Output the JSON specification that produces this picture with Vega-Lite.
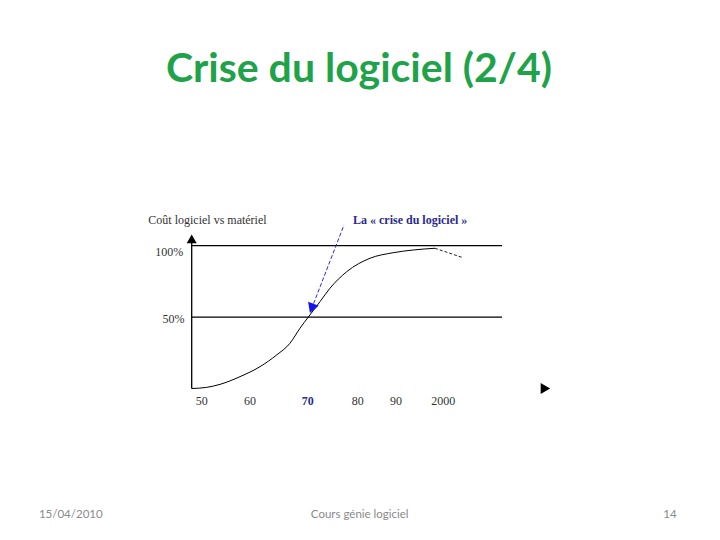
{
  "$schema": "https://vega.github.io/schema/vega-lite/v6.json",
  "width": 720,
  "height": 540,
  "autosize": {"type": "fit", "contains": "padding"},
  "padding": 0,
  "background": "white",
  "config": {"view": {"stroke": null}},
  "datasets": {
    "curve": [
      {"year": 1947.93, "pct": 0},
      {"year": 1951.03, "pct": 0.8},
      {"year": 1953.79, "pct": 2.9},
      {"year": 1957.93, "pct": 8.3},
      {"year": 1962.07, "pct": 15.3},
      {"year": 1965.52, "pct": 23.5},
      {"year": 1968.27, "pct": 31.7},
      {"year": 1970.34, "pct": 42.2},
      {"year": 1972.06, "pct": 50},
      {"year": 1974.48, "pct": 60.8},
      {"year": 1976.55, "pct": 70.2},
      {"year": 1980.01, "pct": 81.8},
      {"year": 1984.83, "pct": 91.2},
      {"year": 1989.65, "pct": 95.1},
      {"year": 1993.79, "pct": 97.0},
      {"year": 1998.28, "pct": 98.2}
    ],
    "tail": [
      {"year": 1998.28, "pct": 98.2},
      {"year": 2001.03, "pct": 95.1},
      {"year": 2003.81, "pct": 91.9}
    ],
    "refs": [
      {"year": 1947.93, "year2": 2012.15, "pct": 100},
      {"year": 1947.93, "year2": 2012.15, "pct": 50}
    ],
    "yaxis": [{"year": 1947.93, "pct": 0, "pct2": 104.5}],
    "arrow": [
      {"year": 1979.45, "pct": 114.5},
      {"year": 1972.7, "pct": 55.5}
    ],
    "headUp": [{"year": 1947.93, "pct": 104.8}],
    "headRight": [{"year": 2021.13, "pct": 0}],
    "headArrow": [{"year": 1972.76, "pct": 56.1}],
    "title": [{"year": 1982.55, "pct": 214.8, "text": "Crise du logiciel (2/4)"}],
    "footer": [
      {"year": 1922.91, "pct": -88.6, "text": "15/04/2010"},
      {"year": 1982.7, "pct": -88.6, "text": "Cours génie logiciel"},
      {"year": 2046.9, "pct": -88.6, "text": "14"}
    ],
    "ylabels": [
      {"year": 1946.2, "pct": 95.8, "text": "100%"},
      {"year": 1946.45, "pct": 48.7, "text": "50%"}
    ],
    "xlabels": [
      {"year": 1950, "pct": -8.5, "text": "50"},
      {"year": 1960, "pct": -8.5, "text": "60"},
      {"year": 1982.28, "pct": -8.5, "text": "80"},
      {"year": 1990.21, "pct": -8.5, "text": "90"},
      {"year": 2000, "pct": -8.5, "text": "2000"}
    ],
    "xhighlight": [{"year": 1971.94, "pct": -8.5, "text": "70"}],
    "ytitle": [{"year": 1938.95, "pct": 118.0, "text": "Coût logiciel vs matériel"}],
    "callout": [{"year": 1981.31, "pct": 118.0, "text": "La « crise du logiciel »"}]
  },
  "encoding": {
    "x": {"field": "year", "type": "quantitative", "scale": {"domain": [1908.26, 2057.26], "nice": false, "zero": false}, "axis": null},
    "y": {"field": "pct", "type": "quantitative", "scale": {"domain": [-106.09, 272.06], "nice": false, "zero": false}, "axis": null}
  },
  "layer": [
    {"data": {"name": "refs"}, "mark": {"type": "rule", "color": "black", "strokeWidth": 1.3}, "encoding": {"x2": {"field": "year2"}}},
    {"data": {"name": "yaxis"}, "mark": {"type": "rule", "color": "black", "strokeWidth": 1.3}, "encoding": {"y2": {"field": "pct2"}}},
    {"data": {"name": "curve"}, "mark": {"type": "line", "color": "black", "strokeWidth": 1, "interpolate": "monotone"}, "encoding": {}},
    {"data": {"name": "tail"}, "mark": {"type": "line", "color": "#222222", "strokeWidth": 1, "strokeDash": [3, 2]}, "encoding": {}},
    {"data": {"name": "arrow"}, "mark": {"type": "line", "color": "#2a2ad8", "strokeWidth": 1, "strokeDash": [4, 2]}, "encoding": {}},
    {"data": {"name": "headUp"}, "mark": {"type": "point", "shape": "triangle-up", "filled": true, "color": "black", "size": 100, "opacity": 1}},
    {"data": {"name": "headRight"}, "mark": {"type": "point", "shape": "triangle-right", "filled": true, "color": "black", "size": 120, "opacity": 1}},
    {"data": {"name": "headArrow"}, "mark": {"type": "point", "shape": "triangle-down", "angle": 21, "filled": true, "color": "#1414f0", "size": 130, "opacity": 1}},
    {"data": {"name": "title"}, "mark": {"type": "text", "font": "Lato", "fontWeight": "bold", "fontSize": 41, "color": "#1fa34a", "align": "center", "baseline": "alphabetic"}, "encoding": {"text": {"field": "text"}}},
    {"data": {"name": "footer"}, "mark": {"type": "text", "font": "Lato", "fontSize": 11.5, "color": "#8a8a8a", "align": "center", "baseline": "middle"}, "encoding": {"text": {"field": "text"}}},
    {"data": {"name": "ylabels"}, "mark": {"type": "text", "font": "Liberation Serif", "fontSize": 12, "color": "#333333", "align": "right", "baseline": "middle"}, "encoding": {"text": {"field": "text"}}},
    {"data": {"name": "xlabels"}, "mark": {"type": "text", "font": "Liberation Serif", "fontSize": 12, "color": "#333333", "align": "center", "baseline": "middle"}, "encoding": {"text": {"field": "text"}}},
    {"data": {"name": "xhighlight"}, "mark": {"type": "text", "font": "Liberation Serif", "fontSize": 12, "fontWeight": "bold", "color": "#2b2b8c", "align": "center", "baseline": "middle"}, "encoding": {"text": {"field": "text"}}},
    {"data": {"name": "ytitle"}, "mark": {"type": "text", "font": "Liberation Serif", "fontSize": 12, "color": "#333333", "align": "left", "baseline": "middle"}, "encoding": {"text": {"field": "text"}}},
    {"data": {"name": "callout"}, "mark": {"type": "text", "font": "Liberation Serif", "fontSize": 12, "fontWeight": "bold", "color": "#2b2b8c", "align": "left", "baseline": "middle"}, "encoding": {"text": {"field": "text"}}}
  ]
}
